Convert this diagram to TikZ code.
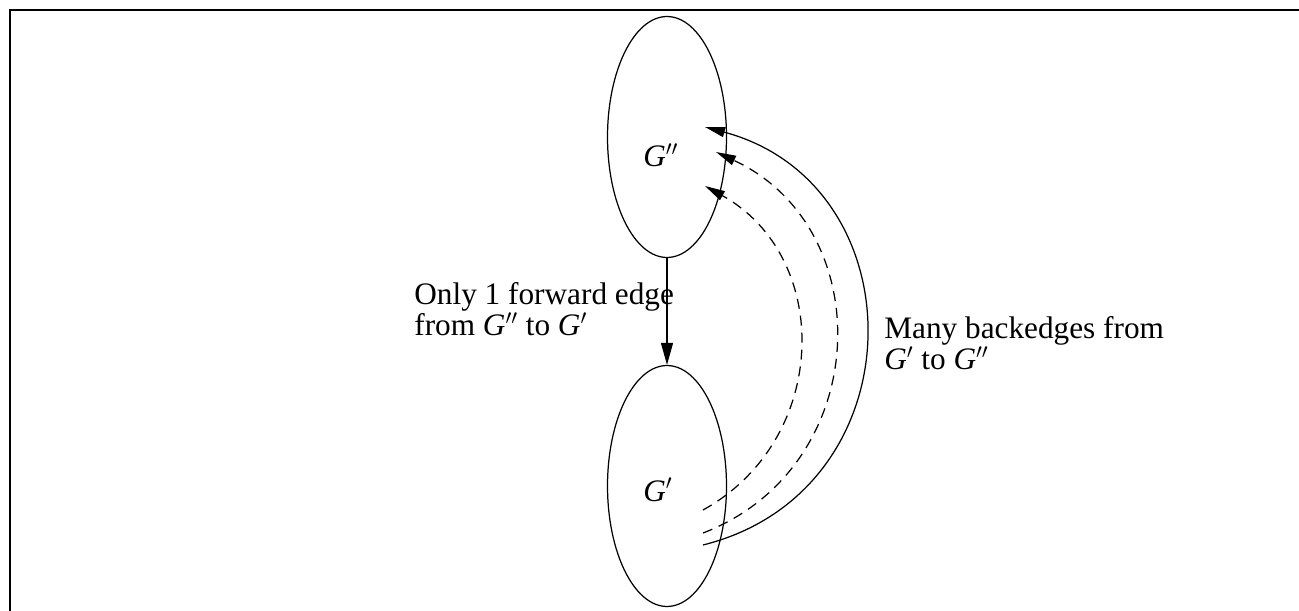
\documentclass[tikz,border=0pt]{standalone}
\usepackage{fontspec}
\setmainfont{Liberation Serif}
\usepackage{tikz}
\usetikzlibrary{arrows.meta, shapes.geometric}

\newcommand{\Gp}{\textit{G}$'$}
\newcommand{\Gpp}{\textit{G}$''$}

\begin{document}
\begin{tikzpicture}[x=0.02cm, y=-0.02cm,
    blob/.style={draw, ellipse, line width=0.7pt, minimum width=2.38cm,
                 minimum height=4.82cm, inner sep=0pt},
    txt/.style={font=\fontsize{17.8pt}{15.4pt}\selectfont, inner sep=0pt, align=left},
    fwd/.style={-{Triangle[length=0.44cm, width=0.24cm]}, line width=0.7pt},
    back/.style={-{Triangle[length=0.4cm, width=0.2cm]}, line width=0.7pt},
    backdash/.style={back, dash pattern=on 0.2cm off 0.14cm}]
  \useasboundingbox (0,0) rectangle (1299,611);
  \draw[line width=1.6pt] (10,611) -- (10,10) -- (1299,10);

  % the two halves
  \node[blob] (gtop) at (667,137) {};
  \node[blob] (gbot) at (667,486) {};
  \node[txt, anchor=base west] (lbltop) at (643,167) {\Gpp};
  \node[txt, anchor=base west] (lblbot) at (643,501) {\Gp};

  % forward edge
  \draw[fwd] (gtop.south) -- (gbot.north);
  \node[txt, anchor=base west] (fwdtxt) at (414,336) {Only 1 forward edge\\from \Gpp{} to \Gp};

  % backedges
  \coordinate (s1) at (703,545);
  \coordinate (e1) at (705,127);
  \coordinate (s2) at (703,533);
  \coordinate (e2) at (716,152);
  \coordinate (s3) at (703,510);
  \coordinate (e3) at (705,186);
  \draw[back] (s1) to[out=14, in=-15, looseness=1.36] (e1);
  \draw[backdash] (s2) to[out=21, in=-25, looseness=1.22] (e2);
  \draw[backdash] (s3) to[out=29, in=-29, looseness=1.15] (e3);
  \node[txt, anchor=base west] (backtxt) at (884,370) {Many backedges from\\\Gp{} to \Gpp};
\end{tikzpicture}
\end{document}
